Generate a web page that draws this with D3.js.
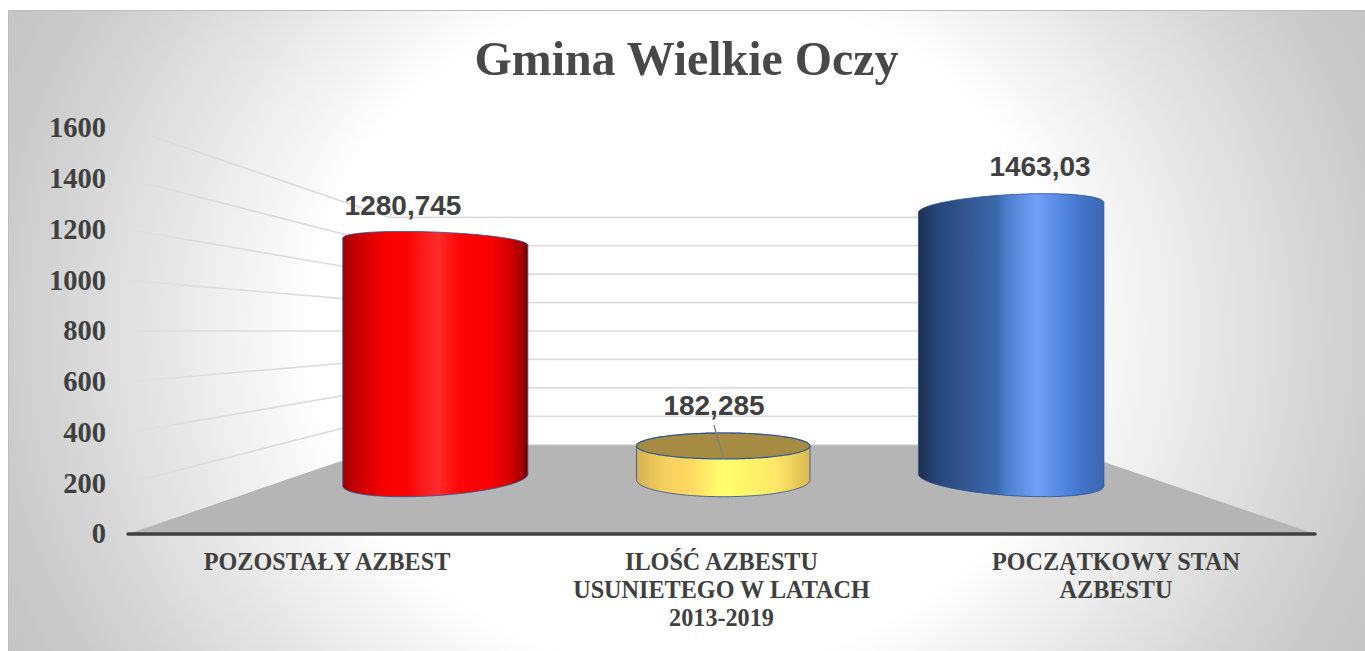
<!DOCTYPE html>
<html><head><meta charset="utf-8">
<script src="https://cdn.jsdelivr.net/npm/d3@7"></script>
<style>html,body{margin:0;padding:0;background:#fff;overflow:hidden}svg{display:block}</style>
</head><body><svg id="c" width="1365" height="651"></svg>
<script>
const title = "Gmina Wielkie Oczy";
const categories = ["POZOSTAŁY AZBEST", "ILOŚĆ AZBESTU USUNIETEGO W LATACH 2013-2019", "POCZĄTKOWY STAN AZBESTU"];
const categoryLines = [["POZOSTAŁY AZBEST"], ["ILOŚĆ AZBESTU", "USUNIETEGO W LATACH", "2013-2019"], ["POCZĄTKOWY STAN", "AZBESTU"]];
const values = [1280.745, 182.285, 1463.03];
const valueLabels = ["1280,745", "182,285", "1463,03"];
const yTicks = [0, 200, 400, 600, 800, 1000, 1200, 1400, 1600];

const svg = d3.select("#c");
const defs = svg.append("defs");

// perspective model of the 3-D column chart
const vx = 721, eyeValue = 800, floorFront = 534, floorLeft = 128, floorRight = 1315;
const y = d3.scaleLinear().domain([0, 1600]).range([floorFront, 128]);
const xWorld = d3.scalePoint().domain(categories).range([-389.5, 395.6]);
const Zback = 0.786, Zc = 0.381, Rx = 119, Rz = 0.156;
const sc = z => 1 / (1 + z);
const P = (X, v, z) => [vx + X * sc(z), y(eyeValue) + (y(v) - y(eyeValue)) * sc(z)];
const line = d3.line();

// background
const bg = defs.append("radialGradient").attr("id", "bg").attr("gradientUnits", "userSpaceOnUse")
  .attr("cx", 0).attr("cy", 0).attr("r", 2.2)
  .attr("gradientTransform", "translate(690,330) scale(375,340)");
[[0, "#fff"], [1 / 2.2, "#fff"], [1.85 / 2.2, "#cbcbcb"], [1, "#c0c0c0"]].forEach(s =>
  bg.append("stop").attr("offset", s[0]).attr("stop-color", s[1]));
svg.append("rect").attr("x", 8).attr("y", 10).attr("width", 1357).attr("height", 641).attr("fill", "url(#bg)");
svg.append("path").attr("d", line([[8.5, 651], [8.5, 10.5], [1365, 10.5]])).attr("fill", "none")
  .attr("stroke", "#bdbdbd").attr("stroke-width", 1);

// gridlines
const backL = vx + (floorLeft - vx) * sc(Zback);
const backR = vx + (floorRight - vx) * sc(Zback);
const gridFade = defs.append("linearGradient").attr("id", "gf").attr("gradientUnits", "userSpaceOnUse")
  .attr("x1", floorLeft).attr("x2", backL).attr("y1", 0).attr("y2", 0);
gridFade.append("stop").attr("offset", 0).attr("stop-color", "#d9d9d9").attr("stop-opacity", 0.1);
gridFade.append("stop").attr("offset", 0.25).attr("stop-color", "#d9d9d9").attr("stop-opacity", 0.8);
gridFade.append("stop").attr("offset", 1).attr("stop-color", "#d9d9d9").attr("stop-opacity", 1);
const gG = svg.append("g");
yTicks.filter(t => t > 0).forEach(t => {
  const a = [floorLeft, y(t)], b = [backL, P(0, t, Zback)[1]], c = [backR, b[1]];
  gG.append("path").attr("d", line([a, b])).attr("stroke", "url(#gf)").attr("stroke-width", 1.6).attr("fill", "none");
  gG.append("path").attr("d", line([b, c])).attr("stroke", "#dcdcdc").attr("stroke-width", 1.6).attr("fill", "none");
});

// floor
const floorBack = P(0, 0, Zback)[1];
svg.append("path").attr("d", line([[floorLeft, floorFront], [floorRight, floorFront], [backR, floorBack], [backL, floorBack]]) + "Z")
  .attr("fill", "#b5b5b5");
svg.append("path").attr("d", line([[backL, floorBack], [backR, floorBack]])).attr("stroke", "#e2e2e2").attr("stroke-width", 1.4);

// axis line
svg.append("path").attr("d", line([[floorLeft, floorFront], [floorRight, floorFront]]))
  .attr("stroke", "#404040").attr("stroke-width", 3.4).attr("stroke-linecap", "round");

// y tick labels
svg.append("g").selectAll("text").data(yTicks).join("text")
  .attr("x", 106).attr("y", d => y(d)).attr("dy", "0.33em").attr("text-anchor", "end")
  .attr("font-family", "'Liberation Serif'").attr("font-weight", "bold").attr("font-size", 28.5).attr("fill", "#404040")
  .text(d => d);

// title
svg.append("text").attr("x", 474.5).attr("y", 75)
  .attr("textLength", 424).attr("lengthAdjust", "spacingAndGlyphs")
  .attr("font-family", "'Liberation Serif'").attr("font-weight", "bold").attr("font-size", 49.5).attr("fill", "#484848").text(title);

// cylinder gradients
const grads = [
  ["g0", [[0, "#a00000"], [0.08, "#c80000"], [0.2, "#f00000"], [0.28, "#ff0000"], [0.36, "#fa0505"], [0.42, "#f91a1a"], [0.52, "#ff2a2a"], [0.63, "#ff0505"], [0.8, "#f80000"], [0.9, "#d40000"], [0.96, "#aa0000"], [1, "#700000"]]],
  ["g1", [[0, "#d4b050"], [0.15, "#f4cf60"], [0.3, "#ffd860"], [0.5, "#ffff70"], [0.6, "#fff86a"], [0.8, "#ffe868"], [1, "#d8b850"]]],
  ["g2", [[0, "#1c2e50"], [0.1, "#27467a"], [0.25, "#325690"], [0.42, "#3a67aa"], [0.48, "#4f80cf"], [0.64, "#70a0f8"], [0.77, "#5488e0"], [0.87, "#4476cc"], [1, "#3c66b0"]]]
];
grads.forEach(g => {
  const lg = defs.append("linearGradient").attr("id", g[0]);
  g[1].forEach(s => lg.append("stop").attr("offset", s[0]).attr("stop-color", s[1]));
});

const thetas = d3.range(0, 360, 2).map(d => d * Math.PI / 180);
const ring = (X, v) => thetas.map(t => P(X + Rx * Math.cos(t), v, Zc + Rz * Math.sin(t)));
const gB = svg.append("g");
categories.forEach((cat, i) => {
  const X = xWorld(cat), v = values[i];
  const bot = ring(X, 0), top = ring(X, v);
  const hull = d3.polygonHull(bot.concat(top));
  gB.append("path").attr("d", line(hull) + "Z").attr("fill", `url(#g${i})`)
    .attr("stroke", "#2f5597").attr("stroke-width", 1).attr("stroke-opacity", 0.85);
  if (v < eyeValue) {
    gB.append("path").attr("d", line(top) + "Z").attr("fill", "#a58c42")
      .attr("stroke", "#2f5597").attr("stroke-width", 1.2);
  }
});

// value labels
const labelPos = [[403, 205], [714, 405], [1040, 166.5]];
const lab = svg.append("g");
valueLabels.forEach((t, i) => {
  lab.append("text").attr("x", labelPos[i][0]).attr("y", labelPos[i][1]).attr("dy", "0.35em").attr("text-anchor", "middle")
    .attr("font-family", "'Liberation Sans'").attr("font-weight", "bold").attr("font-size", 28).attr("fill", "#404040").text(t);
});
// leader line of the short column
const topFront = P(xWorld(categories[1]), values[1], Zc - Rz);
lab.append("path").attr("d", line([[labelPos[1][0], 425], topFront])).attr("stroke", "#808080").attr("stroke-width", 1.4);

// category labels
const cx = [327, 721.5, 1116];
const cg = svg.append("g");
categoryLines.forEach((ls, i) => ls.forEach((l, j) => {
  cg.append("text").attr("x", cx[i]).attr("y", 570 + j * 28).attr("text-anchor", "middle")
    .attr("font-family", "'Liberation Serif'").attr("font-weight", "bold").attr("font-size", 24.2).attr("fill", "#404040").text(l);
}));
</script></body></html>
